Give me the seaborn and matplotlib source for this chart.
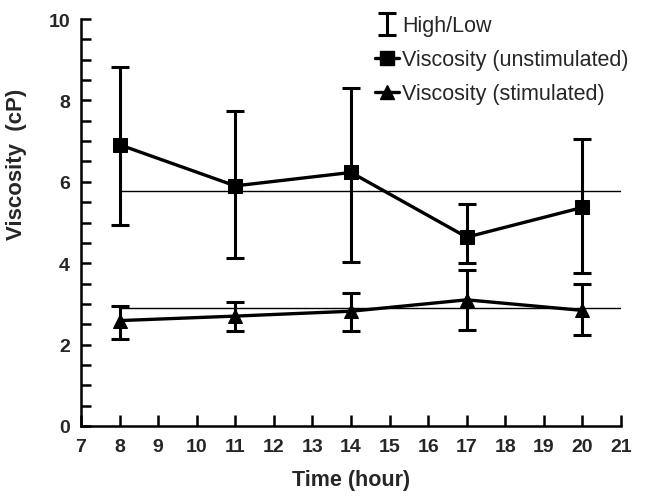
import numpy as np
import pandas as pd
import matplotlib
matplotlib.use("Agg")
import matplotlib.pyplot as plt
import seaborn as sns
from matplotlib.lines import Line2D

# ---- data ----
hours = [8, 11, 14, 17, 20]
unstim_mean = [6.91, 5.90, 6.23, 4.64, 5.37]
unstim_high = [8.83, 7.75, 8.30, 5.45, 7.05]
unstim_low = [4.95, 4.13, 4.02, 4.00, 3.75]
stim_mean = [2.59, 2.70, 2.82, 3.10, 2.84]
stim_high = [2.96, 3.04, 3.28, 3.84, 3.49]
stim_low = [2.13, 2.33, 2.34, 2.35, 2.24]
ref_levels = [5.77, 2.89]
ref_span = [8, 21]
x_ticks = list(range(7, 22))
y_major = [0, 2, 4, 6, 8, 10]

labels = ["Viscosity (unstimulated)", "Viscosity (stimulated)"]

df = pd.DataFrame({
    "hour": hours * 2,
    "viscosity": unstim_mean + stim_mean,
    "condition": [labels[0]] * len(hours) + [labels[1]] * len(hours),
})

sns.set_theme(style="ticks")
plt.rcParams["font.family"] = ["Liberation Sans", "DejaVu Sans"]

fig = plt.figure(figsize=(6.49, 5.02), dpi=100)
ax = fig.add_axes([81 / 649, 1 - 427 / 502, (621 - 81) / 649, (427 - 20) / 502])

# reference lines
for lvl in ref_levels:
    ax.hlines(lvl, ref_span[0], ref_span[1], color="black", lw=1.0, zorder=1)

# error bars (High/Low)
eb_kw = dict(fmt="none", ecolor="black", elinewidth=2.2, capsize=6.5, capthick=2.2, zorder=2)
um = np.array(unstim_mean)
sm = np.array(stim_mean)
eb = ax.errorbar(hours, unstim_mean,
                 yerr=[um - np.array(unstim_low), np.array(unstim_high) - um], **eb_kw)
ax.errorbar(hours, stim_mean,
            yerr=[sm - np.array(stim_low), np.array(stim_high) - sm], **eb_kw)

sns.lineplot(data=df, x="hour", y="viscosity", style="condition",
             markers={labels[0]: "s", labels[1]: "^"}, dashes=False,
             color="black", linewidth=2.4, markersize=9.5,
             markeredgecolor="black", legend=False, ax=ax, zorder=3)

ax.set_xlim(7, 21)
ax.set_ylim(0, 10)
ax.set_xticks(x_ticks)
ax.set_yticks(y_major)
ax.set_yticks(np.arange(0, 10.01, 0.5), minor=True)

sns.despine(ax=ax)
for s in ["left", "bottom"]:
    ax.spines[s].set_linewidth(1.8)
    ax.spines[s].set_color("black")

ax.tick_params(axis="both", which="both", direction="in", width=1.8, color="black")
ax.tick_params(axis="x", which="major", length=8, pad=9, labelsize=14)
ax.tick_params(axis="y", which="major", length=7, pad=8, labelsize=14)
ax.tick_params(axis="y", which="minor", length=7)
for lab in ax.get_xticklabels() + ax.get_yticklabels():
    lab.set_fontweight("bold")

ax.set_xlabel("Time (hour)", fontsize=15.5, fontweight="bold", labelpad=10)
ax.set_ylabel("Viscosity  (cP)", fontsize=16, fontweight="bold")
ax.yaxis.set_label_coords(-0.1, 0.645)

handles = [
    eb,
    Line2D([], [], color="black", lw=2.4, marker="s", markersize=9.5),
    Line2D([], [], color="black", lw=2.4, marker="^", markersize=9.5),
]
leg = ax.legend(handles, ["High/Low"] + labels, loc="upper right",
                bbox_to_anchor=(1.03, 1.03), frameon=False, fontsize=15.5,
                handlelength=1.1, handletextpad=0.15, labelspacing=0.6,
                borderaxespad=0.0)

fig.savefig("out.png", dpi=100)
